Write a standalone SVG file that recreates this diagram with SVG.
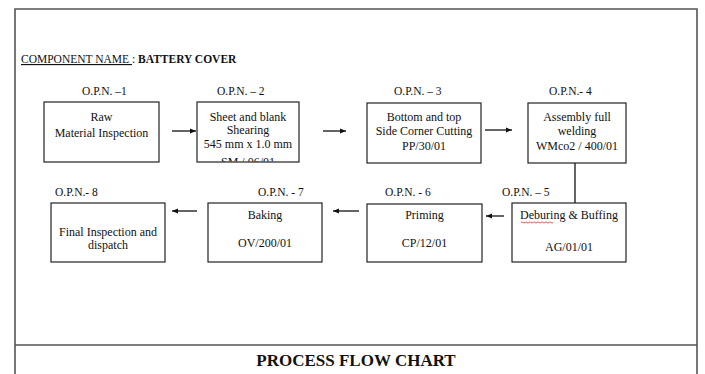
<svg xmlns="http://www.w3.org/2000/svg" width="705" height="374" viewBox="0 0 705 374">
<style>
.frame{fill:none;stroke:#555;stroke-width:1.6}
.box{fill:#fff;stroke:#222;stroke-width:1.2}
.t{font-family:"Liberation Serif","Times New Roman",serif;font-size:12px;fill:#111;text-anchor:middle}
.lbl{font-family:"Liberation Serif","Times New Roman",serif;font-size:11.5px;fill:#111}
.conn{stroke:#111;stroke-width:1.3;fill:none}
</style>
<defs>
<marker id="ah" viewBox="0 0 10 10" refX="10" refY="5" markerWidth="6" markerHeight="6" orient="auto" markerUnits="userSpaceOnUse">
<path d="M0,1 L10,5 L0,9 z" fill="#111"/>
</marker>
<clipPath id="c2"><rect x="197" y="102" width="102" height="59.5"/></clipPath>
</defs>
<rect width="705" height="374" fill="#fff"/>
<path class="frame" d="M15,374 V9 H697 V374 M15,345 H697"/>
<text x="21" y="63" font-family="Liberation Serif,Times New Roman,serif" font-size="11.5" fill="#111"><tspan text-decoration="underline">COMPONENT NAME </tspan>: <tspan font-weight="bold">BATTERY COVER</tspan></text>
<g id="conns">
<line class="conn" x1="172" y1="131" x2="196" y2="131" marker-end="url(#ah)"/>
<line class="conn" x1="323" y1="131" x2="346" y2="131" marker-end="url(#ah)"/>
<line class="conn" x1="485" y1="130" x2="512" y2="130" marker-end="url(#ah)"/>
<line class="conn" x1="575" y1="163" x2="575" y2="203"/>
<line class="conn" x1="504" y1="216" x2="486" y2="216" marker-end="url(#ah)"/>
<line class="conn" x1="359" y1="211" x2="333" y2="211" marker-end="url(#ah)"/>
<line class="conn" x1="197" y1="211" x2="172" y2="211" marker-end="url(#ah)"/>
</g>
<g id="n1">
<text class="lbl" x="82" y="95">O.P.N. –1</text>
<rect class="box" x="44" y="102" width="115" height="60"/>
<text class="t" x="101.5" y="121">Raw</text>
<text class="t" x="101.5" y="137">Material Inspection</text>
</g>
<g id="n2">
<text class="lbl" x="217" y="95">O.P.N. – 2</text>
<rect class="box" x="197" y="102" width="102" height="60"/>
<g clip-path="url(#c2)">
<text class="t" x="248" y="121">Sheet and blank</text>
<text class="t" x="248" y="134">Shearing</text>
<text class="t" x="248" y="148">545 mm x 1.0 mm</text>
<text class="t" x="248" y="165.5">SM / 06/01</text>
</g>
</g>
<g id="n3">
<text class="lbl" x="394" y="95">O.P.N. – 3</text>
<rect class="box" x="367" y="103" width="114" height="60"/>
<text class="t" x="424" y="121">Bottom and top</text>
<text class="t" x="424" y="135">Side Corner Cutting</text>
<text class="t" x="424" y="150">PP/30/01</text>
</g>
<g id="n4">
<text class="lbl" x="549" y="95">O.P.N.- 4</text>
<rect class="box" x="528" y="103" width="98" height="60"/>
<text class="t" x="577" y="121">Assembly full</text>
<text class="t" x="577" y="135">welding</text>
<text class="t" x="577" y="150">WMco2 / 400/01</text>
</g>
<g id="n5">
<text class="lbl" x="502" y="196">O.P.N. – 5</text>
<rect class="box" x="512" y="203" width="114" height="59"/>
<text class="t" x="569" y="219">Deburing &amp; Buffing</text>
<path d="M521,222.5 q1,-1.2 2,0 t2,0 t2,0 t2,0 t2,0 t2,0 t2,0 t2,0 t2,0 t2,0 t2,0 t2,0 t2,0 t2,0 t2,0 t2,0" fill="none" stroke="#e03030" stroke-width="0.8"/>
<text class="t" x="569" y="251">AG/01/01</text>
</g>
<g id="n6">
<text class="lbl" x="385" y="196">O.P.N. - 6</text>
<rect class="box" x="367" y="204" width="115" height="58"/>
<text class="t" x="424.5" y="219">Priming</text>
<text class="t" x="424.5" y="247">CP/12/01</text>
</g>
<g id="n7">
<text class="lbl" x="258" y="196">O.P.N. - 7</text>
<rect class="box" x="208" y="203" width="114" height="59"/>
<text class="t" x="265" y="219">Baking</text>
<text class="t" x="265" y="247">OV/200/01</text>
</g>
<g id="n8">
<text class="lbl" x="55" y="196">O.P.N.- 8</text>
<rect class="box" x="51" y="203" width="114" height="59"/>
<text class="t" x="108" y="236">Final Inspection and</text>
<text class="t" x="108" y="249">dispatch</text>
</g>
<text x="356" y="366" text-anchor="middle" font-family="Liberation Serif,Times New Roman,serif" font-size="17" font-weight="bold" fill="#111">PROCESS FLOW CHART</text>
</svg>
